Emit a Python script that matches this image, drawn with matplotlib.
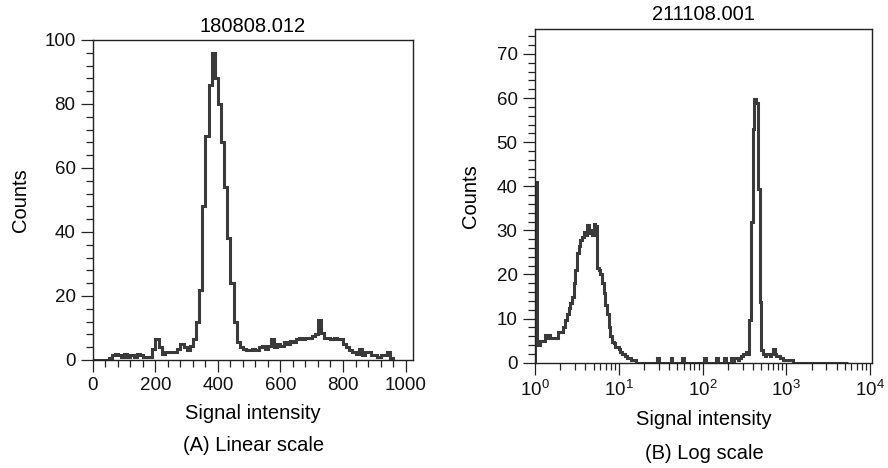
import numpy as np
import matplotlib
matplotlib.use("Agg")
import matplotlib.pyplot as plt
from matplotlib.ticker import MultipleLocator, LogLocator, LogFormatterSciNotation, NullFormatter

plt.rcParams['font.family'] = ['Liberation Sans', 'DejaVu Sans']
plt.rcParams['mathtext.fontset'] = 'custom'
plt.rcParams['mathtext.rm'] = 'Liberation Sans'
plt.rcParams['mathtext.it'] = 'Liberation Sans:italic'
plt.rcParams['mathtext.bf'] = 'Liberation Sans:bold'

# --- (A) linear scale: channel width 10, channels 0..960
lin_title = "180808.012"
lin_counts = [
    0, 0, 0, 0, 0, 0.5, 1.5, 2, 1.5, 1,
    2, 1, 1.5, 1, 2, 1.5, 1, 1, 1, 3.5,
    6.5, 4, 2, 2.5, 2.5, 2.5, 2.5, 3.5, 5, 4,
    3, 4.5, 6.5, 12, 22, 48, 70, 86, 96, 88,
    80, 68, 54, 38, 24, 12, 5.5, 4, 3.5, 3,
    3, 3.5, 3, 4, 4.5, 3.5, 4.5, 6.5, 4, 5,
    4.5, 5.5, 5, 6, 5.5, 6.5, 7, 6.5, 7, 7,
    7.5, 8, 12.5, 8.5, 7, 7, 6.5, 7, 6.5, 6.5,
    5, 4, 3, 2.5, 2, 3.5, 1.5, 2.5, 2.5, 1.5,
    1.5, 1, 1.5, 1.5, 2.5, 0.5,
]
lin_edges = np.arange(len(lin_counts) + 1) * 10.0

# --- (B) log scale: 50 channels per decade, starting at 10^0
log_title = "211108.001"
log_counts = [
    41, 5, 4, 5, 5, 5, 6.3, 5.5, 6.3, 5.5,
    5.5, 5.5, 5.5, 5.5, 7, 7, 7, 8, 9.7, 11,
    12.3, 13.5, 15, 18, 21, 24.9, 26.5, 27.8, 28.5, 29.7,
    29, 31.3, 29.5, 30, 29, 31.5, 31, 21.5, 21, 20,
    18, 15.8, 13, 11, 8, 6, 4.8, 4.5, 3.5, 3.5,
    3, 2.5, 2, 2, 1.5, 1, 1, 0.5, 0.5, 0.5,
    0, 0, 0, 0, 0, 0, 0, 0, 0, 0,
    0, 0, 0, 1, 0, 0, 0, 0, 0, 0,
    0, 1, 0, 0, 0, 0, 0, 0, 1, 0,
    0, 0, 0, 0, 0, 0, 0, 0, 0, 0,
    0, 1, 0, 0, 0, 0, 0, 0, 1, 0,
    0, 0, 0, 1, 0, 0, 0, 1, 0, 1,
    1, 0.5, 1, 1.5, 2, 2, 2.5, 2, 9.7, 32,
    53, 59.8, 59, 39.5, 13.8, 2.9, 2, 1.5, 2, 2,
    1.5, 2, 3, 2, 1.5, 1.5, 1, 1, 0.5, 0.5,
    0.5, 0.5, 0.5, 0.5, 0, 0, 0, 0, 0, 0,
    0, 0, 0, 0, 0, 0, 0, 0, 0, 0,
    0, 0, 0, 0, 0, 0, 0, 0, 0, 0,
    0, 0, 0, 0, 0, 0, 0,
]
log_edges = 10 ** (np.arange(len(log_counts) + 1) / 50.0)

LINE = '#3a3a3a'
AXC = '#222222'
FS_LAB = 14.5
FS_TICK = 13.5

fig = plt.figure(figsize=(8.88, 4.68), dpi=100)
ax1 = fig.add_axes([0.1047, 0.2308, 0.3604, 0.6838])
ax2 = fig.add_axes([0.6025, 0.225, 0.3792, 0.7124])


def style(ax):
    for s in ax.spines.values():
        s.set_color(AXC)
        s.set_linewidth(1.0)
    ax.tick_params(which='both', direction='out', color=AXC, width=0.9,
                   labelsize=FS_TICK, labelcolor='#111111', pad=4)
    ax.tick_params(which='major', length=8.5)
    ax.tick_params(which='minor', length=5)
    ax.tick_params(top=False, right=False)


# (A)
ax1.stairs(lin_counts, lin_edges, color=LINE, lw=2.2)
ax1.set_xlim(0, 1024)
ax1.set_ylim(0, 100)
ax1.xaxis.set_major_locator(MultipleLocator(200))
ax1.xaxis.set_minor_locator(MultipleLocator(40))
ax1.yaxis.set_major_locator(MultipleLocator(20))
ax1.yaxis.set_minor_locator(MultipleLocator(4))
style(ax1)
ax1.set_title(lin_title, fontsize=FS_LAB, pad=6)
ax1.set_xlabel("Signal intensity", fontsize=FS_LAB, labelpad=7)
ax1.set_ylabel("Counts", fontsize=FS_LAB, labelpad=10)

# (B)
ax2.stairs(log_counts, log_edges, color=LINE, lw=2.2)
ax2.set_xscale('log')
ax2.set_xlim(1, 10 ** 4.02)
ax2.set_ylim(0, 75.6)
ax2.xaxis.set_major_locator(LogLocator(base=10, numticks=10))
ax2.xaxis.set_minor_locator(LogLocator(base=10, subs=np.arange(2, 10), numticks=50))
ax2.xaxis.set_major_formatter(LogFormatterSciNotation())
ax2.xaxis.set_minor_formatter(NullFormatter())
ax2.yaxis.set_major_locator(MultipleLocator(10))
ax2.yaxis.set_minor_locator(MultipleLocator(2))
style(ax2)
ax2.set_title(log_title, fontsize=FS_LAB, pad=7)
ax2.set_xlabel("Signal intensity", fontsize=FS_LAB, labelpad=7)
ax2.set_ylabel("Counts", fontsize=FS_LAB, labelpad=12)

fig.text(0.285, 0.049, "(A) Linear scale", fontsize=FS_LAB, ha='center', va='center')
fig.text(0.7928, 0.032, "(B) Log scale", fontsize=FS_LAB, ha='center', va='center')

fig.savefig("out.png", dpi=100)
